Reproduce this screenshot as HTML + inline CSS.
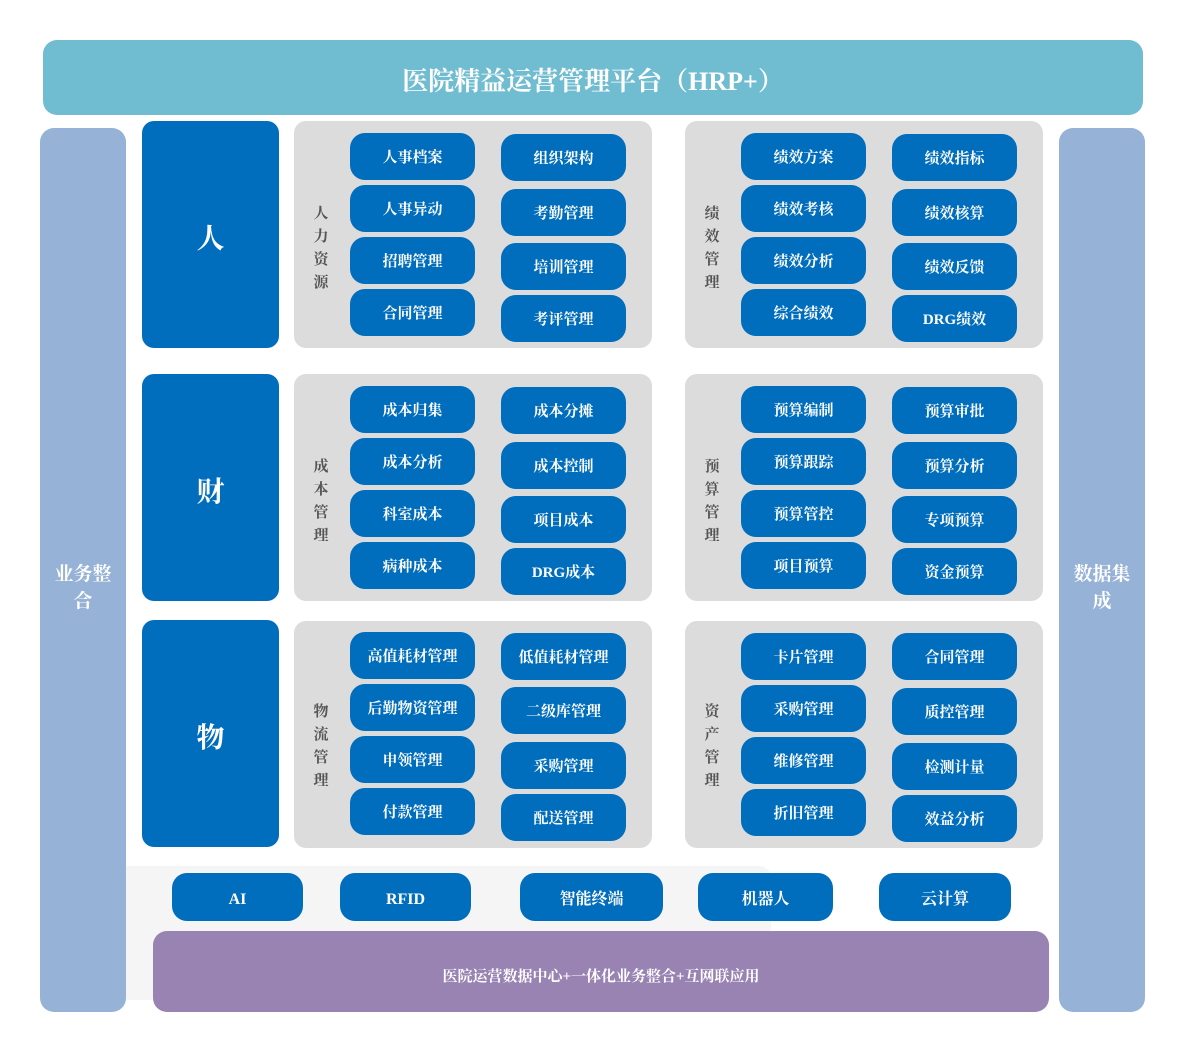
<!DOCTYPE html>
<html><head><meta charset="utf-8"><style>
body{margin:0;width:1182px;height:1050px;background:#fff;position:relative;overflow:hidden;font-family:"Liberation Serif","Noto Serif CJK SC",serif;}
div{position:absolute;box-sizing:border-box;}
.top{left:43px;top:40px;width:1100px;height:75px;background:#70bcd0;border-radius:14px;color:#fff;font-size:26px;font-weight:bold;text-align:center;line-height:83px;}
.side{top:128px;width:86px;height:884px;background:#96b2d6;border-radius:14px;color:#fff;font-size:19px;font-weight:bold;display:flex;align-items:center;justify-content:center;text-align:center;padding:36px 10px 0;line-height:27px;}
.big{left:142px;width:137px;height:227px;background:#006ebd;border-radius:12px;color:#fff;font-size:28px;font-weight:bold;display:flex;align-items:center;justify-content:center;padding-top:4px;}
.p{width:358px;height:227px;background:#dcdcdc;border-radius:12px;}
.v{width:20px;font-size:15px;color:#555;line-height:23px;text-align:center;font-weight:bold;}
.b{width:125px;height:47px;background:#006ebd;border-radius:15px;color:#fff;font-size:15px;font-weight:bold;text-align:center;line-height:51px;}
.bb{top:873px;height:48px;background:#006ebd;border-radius:15px;color:#fff;font-size:16px;font-weight:bold;text-align:center;line-height:54px;}
</style></head><body>
<div class="top">医院精益运营管理平台（HRP+）</div>
<div class="side" style="left:40px">业务整合</div>
<div class="side" style="left:1059px">数据集成</div>
<div style="left:126px;top:866px;width:645px;height:134px;background:#f5f5f5;border-radius:0 12px 0 0"></div>

<div class="big" style="top:121px">人</div>
<div class="big" style="top:374px">财</div>
<div class="big" style="top:620px">物</div>

<div class="p" style="left:294px;top:121px"></div>
<div class="p" style="left:685px;top:121px"></div>
<div class="p" style="left:294px;top:374px"></div>
<div class="p" style="left:685px;top:374px"></div>
<div class="p" style="left:294px;top:621px"></div>
<div class="p" style="left:685px;top:621px"></div>

<div class="v" style="left:311px;top:203px">人力资源</div>
<div class="v" style="left:702px;top:203px">绩效管理</div>
<div class="v" style="left:311px;top:456px">成本管理</div>
<div class="v" style="left:702px;top:456px">预算管理</div>
<div class="v" style="left:311px;top:701px">物流管理</div>
<div class="v" style="left:702px;top:701px">资产管理</div>

<div class="b" style="left:350px;top:133px">人事档案</div>
<div class="b" style="left:350px;top:185px">人事异动</div>
<div class="b" style="left:350px;top:237px">招聘管理</div>
<div class="b" style="left:350px;top:289px">合同管理</div>
<div class="b" style="left:501px;top:134px">组织架构</div>
<div class="b" style="left:501px;top:189px">考勤管理</div>
<div class="b" style="left:501px;top:243px">培训管理</div>
<div class="b" style="left:501px;top:295px">考评管理</div>
<div class="b" style="left:741px;top:133px">绩效方案</div>
<div class="b" style="left:741px;top:185px">绩效考核</div>
<div class="b" style="left:741px;top:237px">绩效分析</div>
<div class="b" style="left:741px;top:289px">综合绩效</div>
<div class="b" style="left:892px;top:134px">绩效指标</div>
<div class="b" style="left:892px;top:189px">绩效核算</div>
<div class="b" style="left:892px;top:243px">绩效反馈</div>
<div class="b" style="left:892px;top:295px">DRG绩效</div>

<div class="b" style="left:350px;top:386px">成本归集</div>
<div class="b" style="left:350px;top:438px">成本分析</div>
<div class="b" style="left:350px;top:490px">科室成本</div>
<div class="b" style="left:350px;top:542px">病种成本</div>
<div class="b" style="left:501px;top:387px">成本分摊</div>
<div class="b" style="left:501px;top:442px">成本控制</div>
<div class="b" style="left:501px;top:496px">项目成本</div>
<div class="b" style="left:501px;top:548px">DRG成本</div>
<div class="b" style="left:741px;top:386px">预算编制</div>
<div class="b" style="left:741px;top:438px">预算跟踪</div>
<div class="b" style="left:741px;top:490px">预算管控</div>
<div class="b" style="left:741px;top:542px">项目预算</div>
<div class="b" style="left:892px;top:387px">预算审批</div>
<div class="b" style="left:892px;top:442px">预算分析</div>
<div class="b" style="left:892px;top:496px">专项预算</div>
<div class="b" style="left:892px;top:548px">资金预算</div>

<div class="b" style="left:350px;top:632px">高值耗材管理</div>
<div class="b" style="left:350px;top:684px">后勤物资管理</div>
<div class="b" style="left:350px;top:736px">申领管理</div>
<div class="b" style="left:350px;top:788px">付款管理</div>
<div class="b" style="left:501px;top:633px">低值耗材管理</div>
<div class="b" style="left:501px;top:687px">二级库管理</div>
<div class="b" style="left:501px;top:742px">采购管理</div>
<div class="b" style="left:501px;top:794px">配送管理</div>
<div class="b" style="left:741px;top:633px">卡片管理</div>
<div class="b" style="left:741px;top:685px">采购管理</div>
<div class="b" style="left:741px;top:737px">维修管理</div>
<div class="b" style="left:741px;top:789px">折旧管理</div>
<div class="b" style="left:892px;top:633px">合同管理</div>
<div class="b" style="left:892px;top:688px">质控管理</div>
<div class="b" style="left:892px;top:743px">检测计量</div>
<div class="b" style="left:892px;top:795px">效益分析</div>

<div class="bb" style="left:172px;width:131px">AI</div>
<div class="bb" style="left:340px;width:131px">RFID</div>
<div class="bb" style="left:520px;width:143px">智能终端</div>
<div class="bb" style="left:698px;width:135px">机器人</div>
<div class="bb" style="left:879px;width:132px">云计算</div>

<div style="left:153px;top:931px;width:896px;height:81px;background:#9983b3;border-radius:14px;color:#fff;font-size:15px;font-weight:bold;text-align:center;line-height:92px;">医院运营数据中心+一体化业务整合+互网联应用</div>
</body></html>
